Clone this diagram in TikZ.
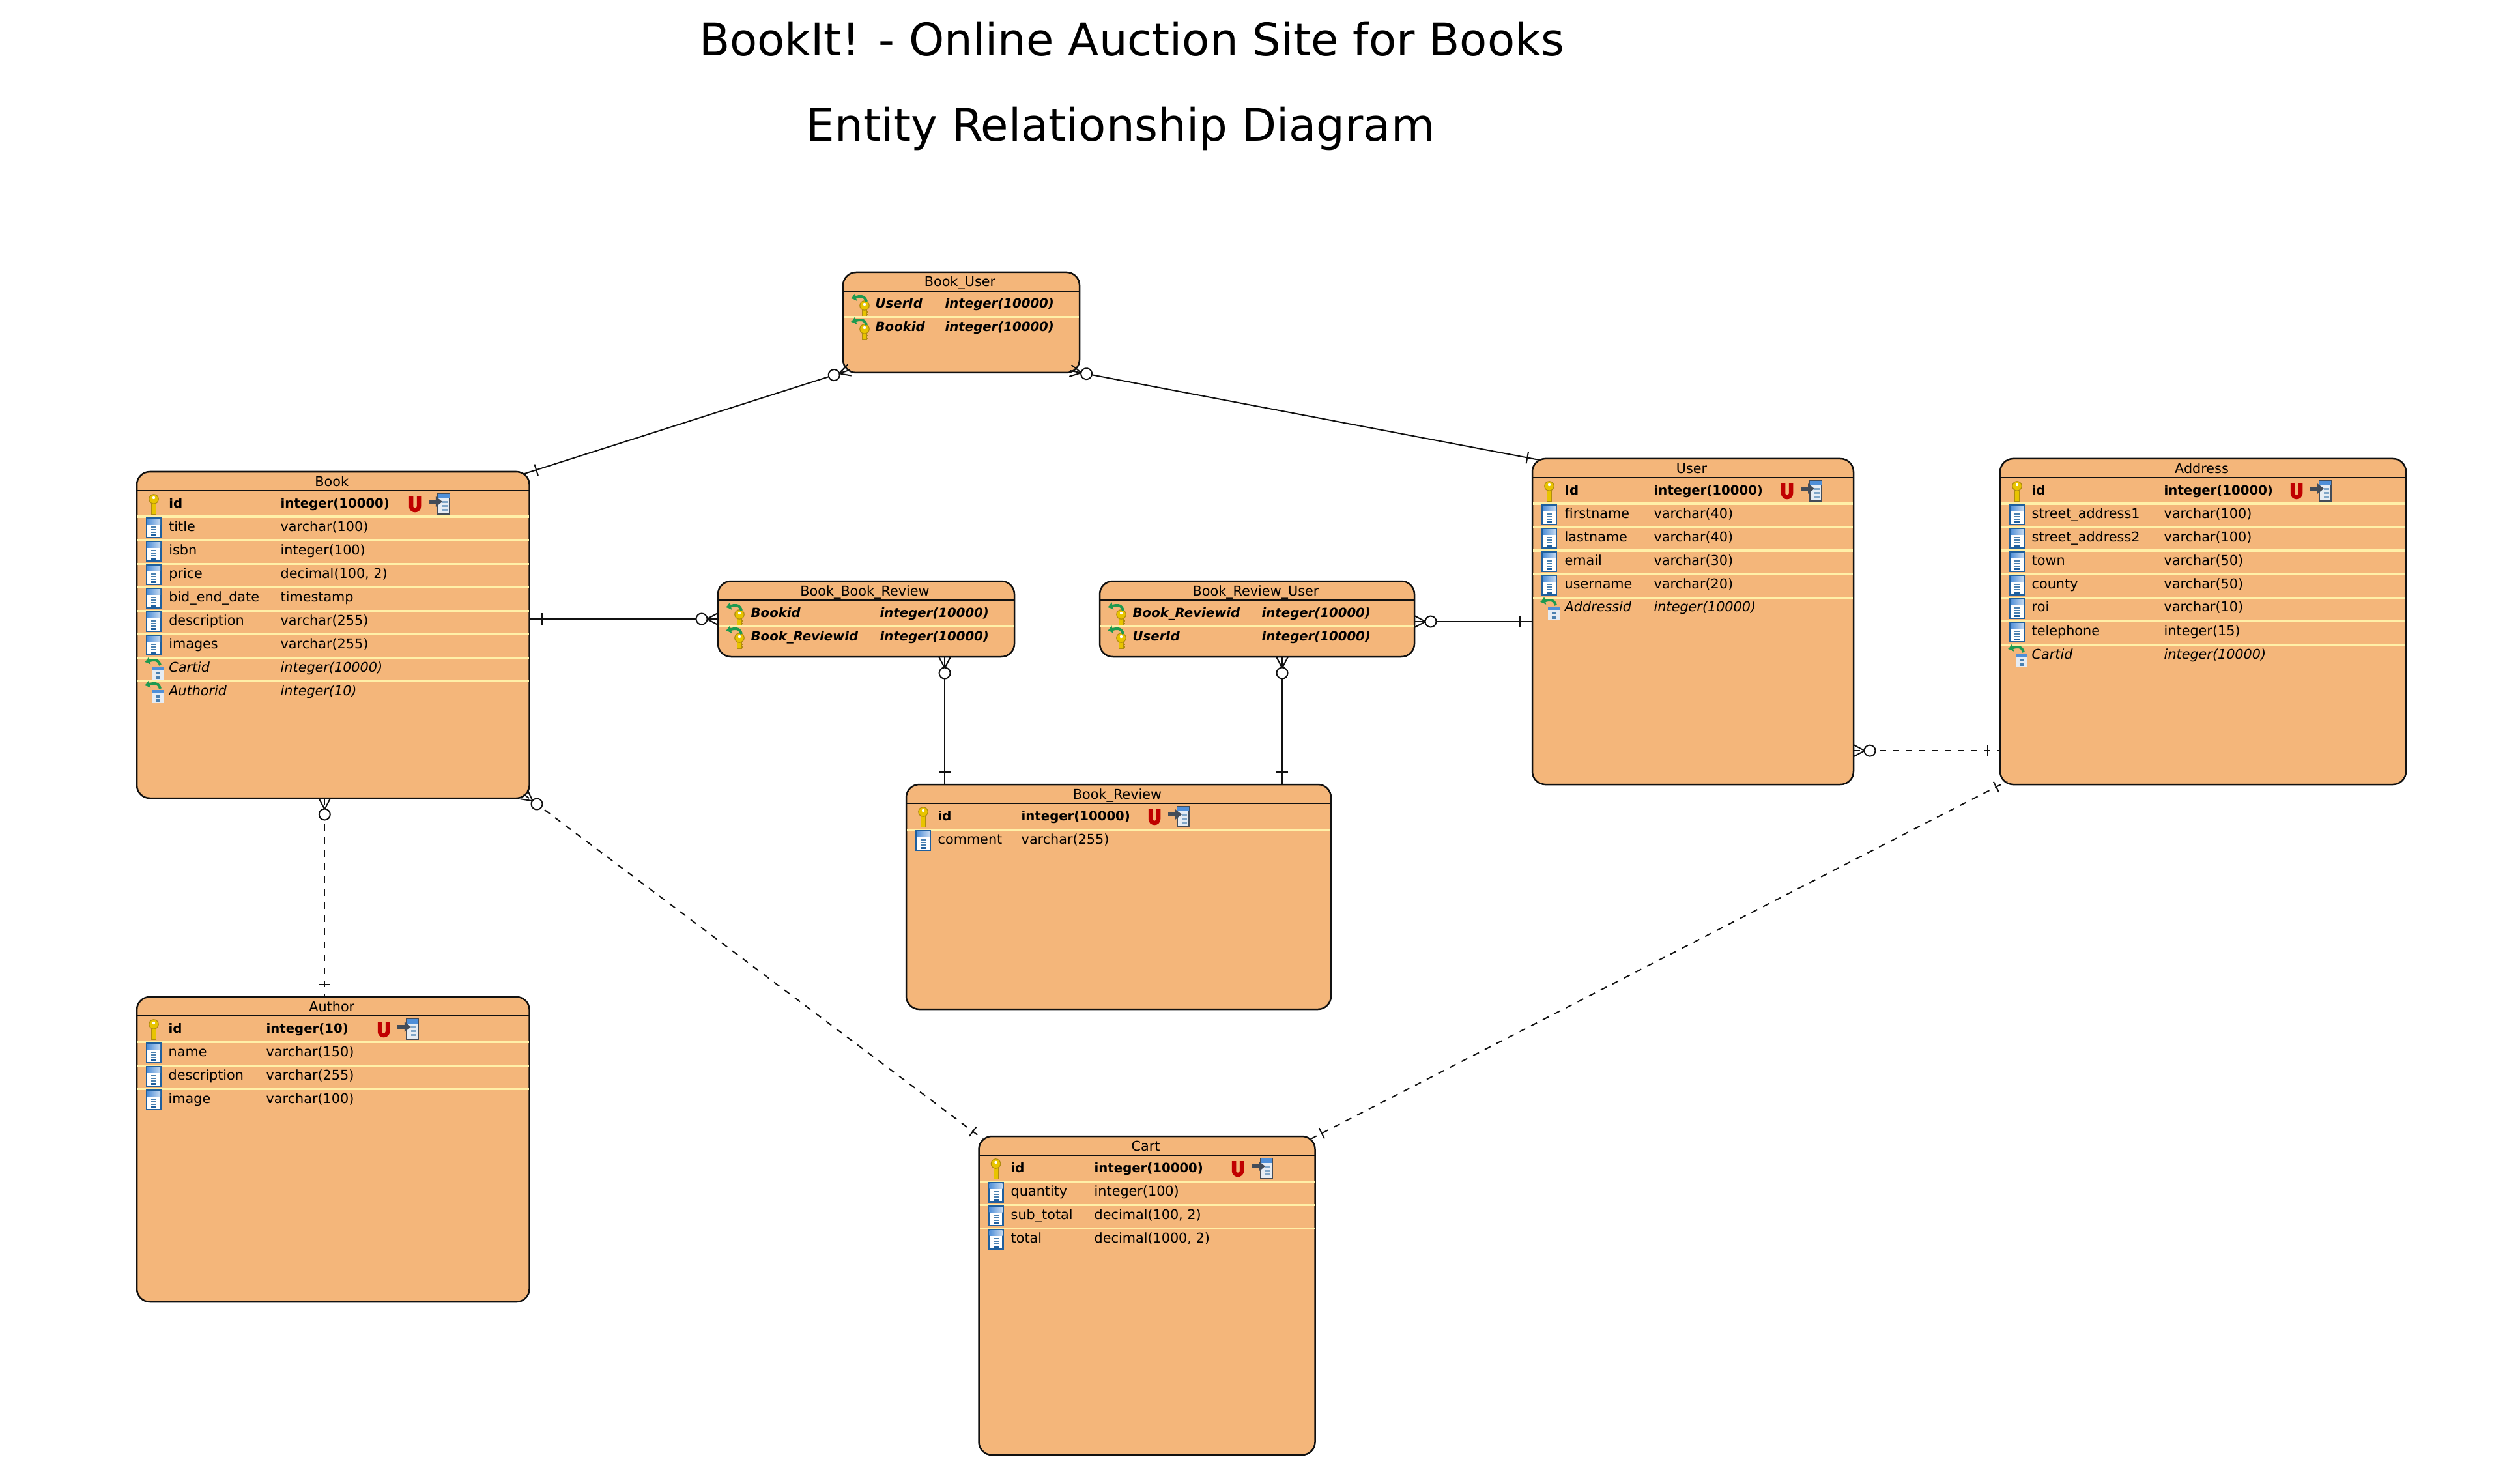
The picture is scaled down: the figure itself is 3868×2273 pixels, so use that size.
\documentclass[tikz,border=0pt]{standalone}
\usepackage{xcolor}
\usepackage{fontspec}
\setmainfont{DejaVu Sans}
\usetikzlibrary{arrows.meta,decorations.markings}
\definecolor{vorange}{HTML}{F4B67A}
\definecolor{vsep}{HTML}{FFF0A8}
\definecolor{vline}{HTML}{111111}
\definecolor{vkey}{HTML}{E8C400}
\definecolor{vkeyedge}{HTML}{B08C10}
\definecolor{vblue}{HTML}{1F5F9E}
\definecolor{vbandl}{HTML}{4F8FD8}
\definecolor{vbandr}{HTML}{C5D9F0}
\definecolor{vdash}{HTML}{4A80B0}
\definecolor{vgreen}{HTML}{1E9A50}
\definecolor{vred}{HTML}{C00000}
\definecolor{vslate}{HTML}{434C58}
\definecolor{vtable}{HTML}{E6ECF3}
\tikzset{
	entity/.style={draw=vline, fill=vorange, line width=0.025cm, rounded corners=0.2cm, inner sep=0, outer sep=0, anchor=north west},
	entitytitle/.style={anchor=base, inner sep=0, font=\fontsize{5.9}{7}\selectfont},
	headline/.style={draw=vline, line width=0.022cm},
	sepline/.style={draw=vsep, line width=0.03cm},
	rowtext/.style={anchor=base west, inner sep=0},
	heading/.style={anchor=base, inner sep=0, font=\fontsize{19.6}{23}\selectfont},
	crowmark/.style={decoration={markings,
		mark=at position 0.17cm with {
			\draw[solid] (-17,9) -- (0,0) -- (-17,-9);
			\draw[solid, fill=white] (8,0) circle (0.085cm);},
		mark=at position -0.19cm with {\draw[solid] (0,-9) -- (0,9);}}, postaction={decorate}},
	tickmark/.style={decoration={markings,
		mark=at position 0.19cm with {\draw[solid] (0,-9) -- (0,9);},
		mark=at position -0.19cm with {\draw[solid] (0,-9) -- (0,9);}}, postaction={decorate}},
	relline/.style={draw=vline, line width=0.02cm, crowmark},
	reldash/.style={relline, dash pattern=on 0.1cm off 0.1cm},
	onedash/.style={draw=vline, line width=0.02cm, tickmark, dash pattern=on 0.1cm off 0.1cm},
}
% fonts of the four kinds of row
\newcommand{\pkfont}{\fontsize{5.6}{7}\selectfont\bfseries}
\newcommand{\pkfkfont}{\fontsize{5.6}{7}\selectfont\bfseries\itshape}
\newcommand{\colfont}{\fontsize{5.9}{7}\selectfont}
\newcommand{\fkfont}{\fontsize{5.9}{7}\selectfont\itshape}
% icons, origin at the left edge of the box on the middle of the row
\newcommand{\keyshape}[3]{
	\draw[fill=vkey, draw=vkeyedge, line width=0.008cm] (#1-3.5,#2+4) rectangle (#1+3.5,#3);
	\draw[fill=vkey, draw=vkeyedge, line width=0.012cm] (#1,#2) circle (0.072cm);
	\fill[white] (#1,#2-2) circle (0.022cm);
}
\newcommand{\fkarrow}{
	\draw[vgreen, line width=0.04cm, -{Latex[length=0.08cm,width=0.13cm]}] (36,-3) .. controls (33,-14) and (24,-11) .. (12,-8);
}
\newcommand{\pkicon}{\keyshape{26}{-6}{17}}
\newcommand{\pkfkicon}{
	\keyshape{33}{3}{19}
	\fill[vkeyedge] (36.5,12) rectangle (39,14);
	\fill[vkeyedge] (36.5,16) rectangle (39,18);
	\fkarrow
}
\newcommand{\colicon}{
	\draw[fill=white, draw=vblue, line width=0.022cm] (15,-13) rectangle (37,17);
	\shade[left color=vbandl, right color=vbandr] (16,-12) rectangle (36,-4);
	\foreach \dashy in {0,4,8} {\fill[vdash] (22,\dashy) rectangle (30,\dashy+2);}
	\fill[vblue] (22,12) rectangle (30,15);
}
\newcommand{\fkicon}{
	\fill[vtable] (24,-1) rectangle (42,19);
	\fill[vbandl] (24,-1) rectangle (42,4);
	\fill[vdash] (30,7) rectangle (36,11);
	\fill[vdash] (30,13) rectangle (36,18);
	\fkarrow
}
% box with its title and head line
\newcommand{\entitybox}[6]{
	\node[entity, minimum width=#4*0.01cm, minimum height=#5*0.01cm] (#1) at (#2,#3) {};
	\node[entitytitle] (#1-title) at ([shift={(-2,22)}]#1.north) {#6};
	\draw[headline] ([shift={(0,29)}]#1.north west) -- ([shift={(0,29)}]#1.north east);
}
% rows: box, name column, type column, kind/name/type list
\newcommand{\entityrows}[4]{
	\foreach \kind/\colname/\coltype [count=\i from 0] in {#4} {
		\pgfmathsetmacro{\rowy}{48+36*\i}
		\ifnum\i>0
			\draw[sepline] ([shift={(1,\rowy-15)}]#1.north west) -- ([shift={(-1,\rowy-15)}]#1.north east);
		\fi
		\begin{scope}[shift={([shift={(0,\rowy)}]#1.north west)}]
			\csname\kind icon\endcsname
			\node[rowtext, font=\csname\kind font\endcsname] (#1-name-\i) at (#2,7) {\colname};
			\node[rowtext, font=\csname\kind font\endcsname] (#1-type-\i) at (#3,7) {\coltype};
		\end{scope}
	}
}
% the U and the reference table of a primary key
\newcommand{\pkmarks}[2]{
	\begin{scope}[shift={([shift={(#2,48)}]#1.north west)}]
		\draw[vred, line width=0.065cm] (-6,-10) -- (-6,5) arc[start angle=180, end angle=360, radius=0.06cm] -- (6,-10);
		\draw[fill=vtable, draw=vslate, line width=0.015cm] (35,-14) rectangle (53,17);
		\fill[vbandl] (35,-14) rectangle (53,-7);
		\foreach \dashy in {-3,3,9} {\fill[vdash!70] (42,\dashy) rectangle (50,\dashy+3);}
		\draw[vslate, line width=0.06cm, -{Triangle[length=0.1cm,width=0.15cm]}] (21,-2) -- (42,-2);
	\end{scope}
}
\begin{document}
\begin{tikzpicture}[x=0.01cm, y=-0.01cm]
	\useasboundingbox (0,0) rectangle (3868,2273);
	\node[heading] (title) at (1737,86) {BookIt! - Online Auction Site for Books};
	\node[heading] (subtitle) at (1720,217) {Entity Relationship Diagram};

	\entitybox{book}{210}{724}{602.6}{501}{Book}
	\entityrows{book}{48.6}{220}{pk/id/integer(10000), col/title/varchar(100), col/isbn/integer(100), col/price/{decimal(100, 2)}, col/bid\_end\_date/timestamp, col/description/varchar(255), col/images/varchar(255), fk/Cartid/integer(10000), fk/Authorid/integer(10)}
	\pkmarks{book}{427}

	\entitybox{bookuser}{1294}{418}{363}{154}{Book\_User}
	\entityrows{bookuser}{49}{156}{pkfk/UserId/integer(10000), pkfk/Bookid/integer(10000)}

	\entitybox{bbr}{1102}{892}{455}{116}{Book\_Book\_Review}
	\entityrows{bbr}{50}{248}{pkfk/Bookid/integer(10000), pkfk/Book\_Reviewid/integer(10000)}

	\entitybox{bru}{1688}{892}{483}{116}{Book\_Review\_User}
	\entityrows{bru}{50}{248}{pkfk/Book\_Reviewid/integer(10000), pkfk/UserId/integer(10000)}

	\entitybox{review}{1391}{1204}{652}{345}{Book\_Review}
	\entityrows{review}{48}{176}{pk/id/integer(10000), col/comment/varchar(255)}
	\pkmarks{review}{381}

	\entitybox{user}{2352}{704}{493}{500}{User}
	\entityrows{user}{49}{186}{pk/Id/integer(10000), col/firstname/varchar(40), col/lastname/varchar(40), col/email/varchar(30), col/username/varchar(20), fk/Addressid/integer(10000)}
	\pkmarks{user}{391}

	\entitybox{address}{3070}{704}{623}{500}{Address}
	\entityrows{address}{48}{251}{pk/id/integer(10000), col/street\_address1/varchar(100), col/street\_address2/varchar(100), col/town/varchar(50), col/county/varchar(50), col/roi/varchar(10), col/telephone/integer(15), fk/Cartid/integer(10000)}
	\pkmarks{address}{455}

	\entitybox{author}{210}{1530}{602.6}{468}{Author}
	\entityrows{author}{48}{198}{pk/id/integer(10), col/name/varchar(150), col/description/varchar(255), col/image/varchar(100)}
	\pkmarks{author}{379}

	\entitybox{cart}{1502.5}{1744}{516}{489}{Cart}
	\entityrows{cart}{48.5}{176.5}{pk/id/integer(10000), col/quantity/integer(100), col/sub\_total/{decimal(100, 2)}, col/total/{decimal(1000, 2)}}
	\pkmarks{cart}{397.5}

	\coordinate (bbrfoot) at ([xshift=1.205cm]bbr.south);
	\coordinate (brufoot) at ([xshift=0.385cm]bru.south);
	\coordinate (bookfoot) at ([xshift=-0.13cm]book.south);
	\coordinate (useraddr) at ([yshift=-1.98cm]user.east);

	\draw[relline] ([shift={(10,-4)}]bookuser.south west) -- ([shift={(-7.6,3)}]book.north east);
	\draw[relline] ([shift={(-14,-3)}]bookuser.south east) -- ([shift={(11,2)}]user.north west);
	\draw[relline] (bbr.west) -- (book.east |- bbr.west);
	\draw[relline] (bbrfoot) -- (bbrfoot |- review.north);
	\draw[relline] (brufoot) -- (brufoot |- review.north);
	\draw[relline] (bru.east |- user.west) -- (user.west);
	\draw[reldash] (useraddr) -- (useraddr -| address.west);
	\draw[reldash] (bookfoot) -- (bookfoot |- author.north);
	\draw[reldash] ([shift={(-8.6,-6)}]book.south east) -- ([shift={(6,4)}]cart.north west);
	\draw[onedash] ([shift={(-6.6,4)}]cart.north east) -- ([shift={(11,-5)}]address.south west);
\end{tikzpicture}
\end{document}
